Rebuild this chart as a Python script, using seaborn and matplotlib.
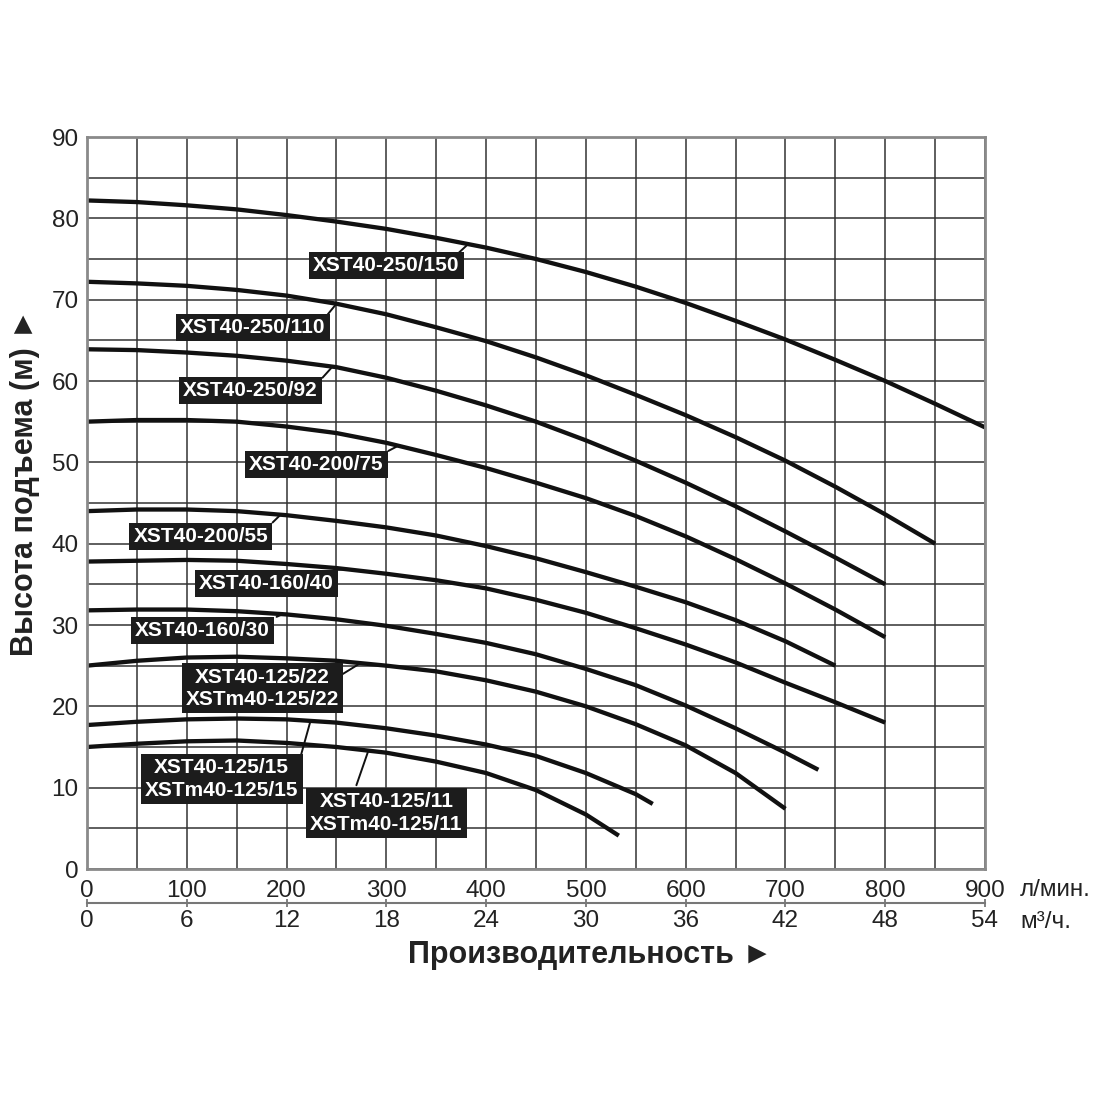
import numpy as np
import pandas as pd
import matplotlib
matplotlib.use("Agg")
import matplotlib.pyplot as plt
import seaborn as sns
from matplotlib.ticker import MultipleLocator

# ------------------------------
# Data
# ------------------------------
# flow, l/min
flow = [0, 50, 100, 150, 200, 250, 300, 350, 400, 450,
        500, 550, 600, 650, 700, 750, 800, 850, 900]

# head, m
head_250_150 = [82.2, 82.0, 81.6, 81.1, 80.4, 79.6, 78.7, 77.6, 76.4, 75.0,
                73.4, 71.6, 69.6, 67.4, 65.1, 62.6, 60.0, 57.2, 54.3]
head_250_110 = [72.2, 72.0, 71.7, 71.2, 70.5, 69.5, 68.2, 66.6, 64.9, 62.9,
                60.7, 58.3, 55.8, 53.1, 50.2, 47.0, 43.6, 40.0]
head_250_92 = [63.9, 63.8, 63.5, 63.1, 62.5, 61.7, 60.4, 58.8, 57.0, 55.0,
               52.7, 50.2, 47.5, 44.6, 41.5, 38.3, 35.0]
head_200_75 = [55.0, 55.2, 55.2, 55.0, 54.4, 53.6, 52.4, 50.9, 49.3, 47.5,
               45.6, 43.4, 40.9, 38.1, 35.1, 31.9, 28.5]
head_200_55 = [44.0, 44.2, 44.2, 44.0, 43.5, 42.8, 42.0, 41.0, 39.7, 38.2,
               36.5, 34.7, 32.8, 30.6, 28.0, 25.0]
head_160_40 = [37.8, 37.9, 38.0, 37.9, 37.5, 37.0, 36.3, 35.5, 34.5, 33.1,
               31.5, 29.6, 27.6, 25.4, 22.9, 20.5, 18.0]
head_160_30 = [31.8, 31.9, 31.9, 31.7, 31.3, 30.7, 29.9, 28.9, 27.8, 26.4,
               24.6, 22.6, 20.1, 17.3, 14.3, 12.2]
head_125_22 = [25.0, 25.6, 26.0, 26.1, 25.9, 25.6, 25.0, 24.3, 23.2, 21.8,
               20.0, 17.8, 15.2, 11.8, 7.4]
head_125_15 = [17.7, 18.1, 18.4, 18.5, 18.4, 18.0, 17.3, 16.4, 15.3, 13.9,
               11.8, 9.2, 8.0]
head_125_11 = [15.0, 15.4, 15.7, 15.8, 15.5, 15.0, 14.3, 13.2, 11.8, 9.7,
               6.7, 4.1]

flow_160_30 = flow[:15] + [733]
flow_125_15 = flow[:12] + [567]
flow_125_11 = flow[:11] + [533]

models = ["XST40-250/150", "XST40-250/110", "XST40-250/92", "XST40-200/75",
          "XST40-200/55", "XST40-160/40", "XST40-160/30", "XST40-125/22",
          "XST40-125/15", "XST40-125/11"]
flows = [flow[:19], flow[:18], flow[:17], flow[:17], flow[:16], flow[:17],
         flow_160_30, flow[:15], flow_125_15, flow_125_11]
heads = [head_250_150, head_250_110, head_250_92, head_200_75, head_200_55,
         head_160_40, head_160_30, head_125_22, head_125_15, head_125_11]

label_texts = ["XST40-250/150", "XST40-250/110", "XST40-250/92", "XST40-200/75",
               "XST40-200/55", "XST40-160/40", "XST40-160/30",
               "XST40-125/22\nXSTm40-125/22", "XST40-125/15\nXSTm40-125/15",
               "XST40-125/11\nXSTm40-125/11"]

x_ticks = [0, 100, 200, 300, 400, 500, 600, 700, 800, 900]
m3h_ticks = [0, 6, 12, 18, 24, 30, 36, 42, 48, 54]
y_ticks = [0, 10, 20, 30, 40, 50, 60, 70, 80, 90]

# label box centres and leader lines (layout only)
label_xy = [(300, 74.2), (166, 66.6), (164, 58.8), (230, 49.7), (114, 40.9),
            (180, 35.1), (116, 29.3), (176, 22.2), (135, 11.05), (300, 6.9)]
leader_start = [(372, 75.7), (240, 68.0), (236, 60.4), (302, 51.4), (186, 42.6),
                (252, 36.8), (190, 31.0), (254, 23.8), (214, 13.8), (270, 10.3)]
leader_end_x = [382, 250, 246, 312, 194, 260, 196, 274, 224, 282]

# long-form table for seaborn
rows = []
for name, q, h in zip(models, flows, heads):
    for qi, hi in zip(q, h):
        rows.append({"model": name, "flow": qi, "head": hi})
df = pd.DataFrame(rows)

# ------------------------------
# Plot
# ------------------------------
sns.set_style("white")
plt.rcParams["font.family"] = ["Liberation Sans", "DejaVu Sans"]

fig = plt.figure(figsize=(11, 11), dpi=100)
ax = fig.add_axes([87 / 1100, 1 - 869 / 1100, 898 / 1100, 732 / 1100])

sns.lineplot(data=df, x="flow", y="head", units="model", estimator=None,
             color="#111111", linewidth=3.1, sort=False, ax=ax,
             solid_capstyle="butt", solid_joinstyle="round")

ax.set_xlim(0, 900)
ax.set_ylim(0, 90)
ax.xaxis.set_minor_locator(MultipleLocator(50))
ax.yaxis.set_minor_locator(MultipleLocator(5))
ax.set_xticks(x_ticks)
ax.set_yticks(y_ticks)
ax.grid(True, which="both", color="#333333", linewidth=1.1)
ax.set_axisbelow(True)
for sp in ax.spines.values():
    sp.set_color("#8a8a8a")
    sp.set_linewidth(2)

ax.tick_params(axis="x", which="both", length=0, pad=8, labelsize=17.5,
               labelcolor="#222222")
ax.tick_params(axis="y", which="both", length=0, pad=6, labelsize=17.5,
               labelcolor="#222222")
ax.set_xlabel("")
ax.set_ylabel("")

# second flow scale in m3/h
sec = ax.secondary_xaxis(-34 / 732, functions=(lambda q: q * 0.06,
                                                lambda m: m / 0.06))
sec.set_xticks(m3h_ticks)
sec.tick_params(length=6, direction="inout", width=1.3, color="#777777",
                pad=2, labelsize=17.5, labelcolor="#222222")
sec.spines["bottom"].set_color("#777777")
sec.spines["bottom"].set_linewidth(1.5)

# model labels
for i, txt in enumerate(label_texts):
    cx, cy = label_xy[i]
    ax.text(cx, cy, txt, ha="center", va="center", color="white",
            fontsize=15, fontweight="bold", linespacing=1.25, zorder=5,
            bbox=dict(boxstyle="square,pad=0.2", fc="#1c1c1c", ec="none"))
    x0, y0 = leader_start[i]
    x1 = leader_end_x[i]
    y1 = np.interp(x1, flows[i], heads[i])
    ax.plot([x0, x1], [y0, y1], color="#111111", linewidth=1.4, zorder=4)

fig.text(1020 / 1100, 1 - 890 / 1100, "л/мин.", fontsize=17.5, color="#222222",
         ha="left", va="center")
fig.text(1020 / 1100, 1 - 922 / 1100, "м³/ч.", fontsize=17.5, color="#222222",
         ha="left", va="center")

fig.text(590 / 1100, 1 - 955 / 1100, "Производительность ►", fontsize=22,
         fontweight="bold", color="#222222", ha="center", va="center")
fig.text(25 / 1100, 1 - 482 / 1100, "Высота подъема (м) ►", fontsize=22,
         fontweight="bold", color="#222222", ha="center", va="center",
         rotation=90)

fig.savefig("out.png", dpi=100, facecolor="white")
